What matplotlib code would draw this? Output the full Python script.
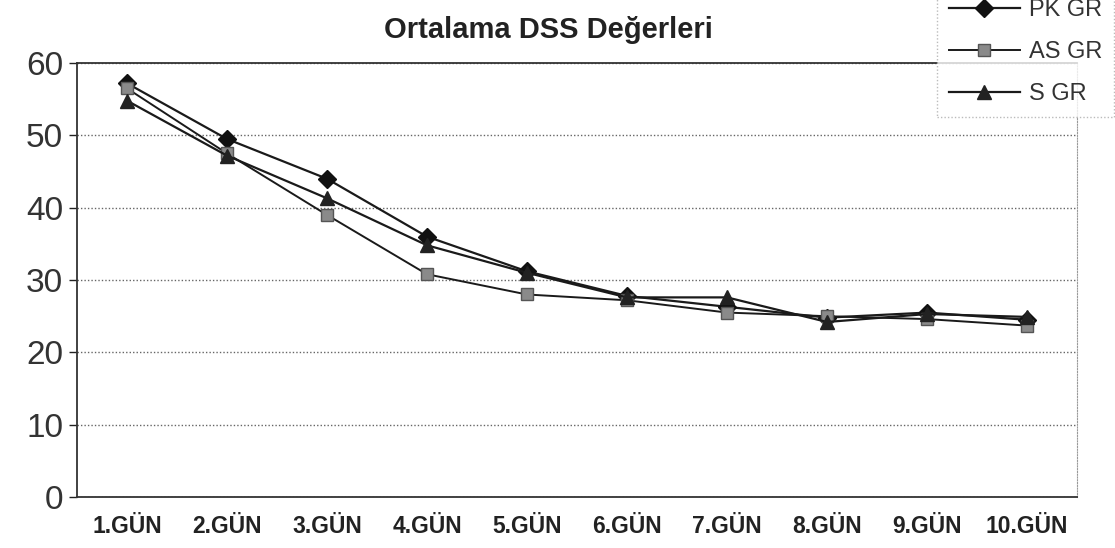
import matplotlib.pyplot as plt
import numpy as np

plt.rcParams['font.family'] = ['Liberation Sans', 'DejaVu Sans']

# data
gunler = ['1.GÜN', '2.GÜN', '3.GÜN', '4.GÜN', '5.GÜN', '6.GÜN', '7.GÜN', '8.GÜN', '9.GÜN', '10.GÜN']
pk_gr = [57.2, 49.5, 44.0, 36.0, 31.2, 27.8, 26.3, 24.8, 25.5, 24.5]
as_gr = [56.5, 47.5, 39.0, 30.8, 28.0, 27.2, 25.5, 25.0, 24.6, 23.7]
s_gr = [54.8, 47.2, 41.3, 34.8, 31.0, 27.6, 27.6, 24.2, 25.3, 24.9]

fig = plt.figure(figsize=(11.15, 5.48), dpi=100)
ax = fig.add_axes([0.069, 0.093, 0.897, 0.792])

x = np.arange(len(gunler))
ax.plot(x, pk_gr, color='#1a1a1a', lw=1.6, marker='D', ms=9, mfc='#111111', mec='#111111', label='PK GR')
ax.plot(x, as_gr, color='#1a1a1a', lw=1.4, marker='s', ms=9, mfc='#8a8a8a', mec='#555555', label='AS GR')
ax.plot(x, s_gr, color='#1a1a1a', lw=1.6, marker='^', ms=10, mfc='#222222', mec='#222222', label='S GR')

ax.set_xlim(-0.5, len(gunler) - 0.5)
ax.set_ylim(0, 60)
ax.set_yticks(range(0, 61, 10))
ax.set_xticks(x)
ax.set_xticklabels(gunler, fontsize=16.5, fontweight='bold', color='#222222')
ax.tick_params(axis='y', labelsize=24, length=6, width=1, colors='#222222', pad=4)
ax.tick_params(axis='x', length=0, pad=13)
for t in ax.get_yticklabels():
    t.set_color('#333333')

ax.grid(axis='y', color='#666666', ls=(0, (1, 1.5)), lw=1)
for s in ['left', 'bottom', 'top']:
    ax.spines[s].set_color('#333333')
    ax.spines[s].set_linewidth(1.3)
ax.spines['right'].set_color('#999999')
ax.spines['right'].set_linestyle((0, (1, 1.5)))

fig.text(0.492, 0.945, 'Ortalama DSS Değerleri', ha='center', va='center',
         fontsize=21, fontweight='bold', color='#222222')

leg = fig.legend(loc='upper right', bbox_to_anchor=(1.01, 1.045), fontsize=17,
                 frameon=True, fancybox=False, handlelength=3.0, labelspacing=0.85,
                 borderpad=0.5, handletextpad=0.4, markerscale=1.0)
leg.get_frame().set_edgecolor('#aaaaaa')
leg.get_frame().set_linestyle((0, (1, 1.5)))
for t in leg.get_texts():
    t.set_color('#333333')

fig.savefig('out.png', dpi=100)
